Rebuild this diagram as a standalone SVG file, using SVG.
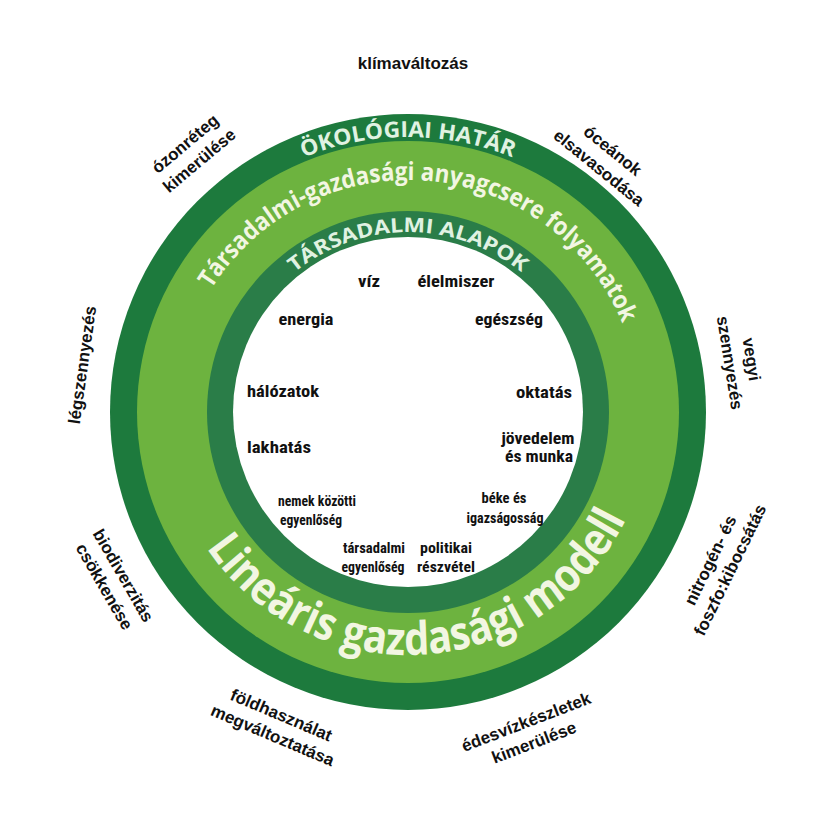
<svg xmlns="http://www.w3.org/2000/svg" width="820" height="820" viewBox="0 0 820 820">
  <style>
    .outer { font-family: "Liberation Sans", Arial, sans-serif; font-weight: 700; font-size: 17px; fill: #111; text-anchor: middle; }
    .in { font-family: "Liberation Sans Narrow", "Roboto Condensed", Roboto, "Liberation Sans", sans-serif; font-weight: 700; fill: #111; text-anchor: middle; }
    .in17 { font-size: 17px; }
    .in15 { font-size: 15px; }
    .ring { font-family: "Open Sans", "Liberation Sans", sans-serif; font-weight: 700; }
    .onDark { fill: #e0f2e2; }
    .onLight { fill: #f2f6e2; }
  </style>
  <defs>
    <path id="arcEco" d="M 149.6 317.9 A 275 275 0 0 1 666.4 317.9"/>
    <path id="arcMeta" d="M 211.3 289.1 A 232 232 0 0 1 623.1 325.1"/>
    <path id="arcSoc" d="M 238.9 350.4 A 180 180 0 0 1 577.1 350.4"/>
    <path id="arcLin" d="M 206.5 547.9 A 243 243 0 0 0 626.4 518.5"/>
  </defs>
  <rect width="820" height="820" fill="#ffffff"/>

  <g id="ring-ecological-ceiling">
    <circle cx="408" cy="412" r="298" fill="#1d7a3d"/>
  </g>
  <g id="ring-metabolism">
    <circle cx="408" cy="412" r="271" fill="#6db33f"/>
  </g>
  <g id="ring-social-foundation">
    <circle cx="408" cy="412" r="201" fill="#2a7d48"/>
  </g>
  <g id="core">
    <circle cx="408" cy="412" r="175" fill="#ffffff"/>
  </g>

  <g id="ring-labels">
    <text class="ring onDark" font-size="22"><textPath href="#arcEco" startOffset="50%" text-anchor="middle" textLength="214" lengthAdjust="spacingAndGlyphs">ÖKOLÓGIAI HATÁR</textPath></text>
    <text class="ring onLight" font-size="25"><textPath href="#arcMeta" textLength="508" lengthAdjust="spacingAndGlyphs">Társadalmi-gazdasági anyagcsere folyamatok</textPath></text>
    <text class="ring onDark" font-size="20"><textPath href="#arcSoc" startOffset="50%" text-anchor="middle" textLength="246" lengthAdjust="spacingAndGlyphs">TÁRSADALMI ALAPOK</textPath></text>
    <text class="ring onLight" font-size="46"><textPath href="#arcLin" textLength="508" lengthAdjust="spacingAndGlyphs">Lineáris gazdasági modell</textPath></text>
  </g>

  <g id="foundation-labels">
    <g id="n-viz"><text class="in in17" x="369" y="287" textLength="22" lengthAdjust="spacingAndGlyphs">víz</text></g>
    <g id="n-elelmiszer"><text class="in in17" x="456" y="287" textLength="77" lengthAdjust="spacingAndGlyphs">élelmiszer</text></g>
    <g id="n-energia"><text class="in in17" x="306" y="325" textLength="55" lengthAdjust="spacingAndGlyphs">energia</text></g>
    <g id="n-egeszseg"><text class="in in17" x="509" y="325" textLength="68" lengthAdjust="spacingAndGlyphs">egészség</text></g>
    <g id="n-halozatok"><text class="in in17" x="283" y="397" textLength="72" lengthAdjust="spacingAndGlyphs">hálózatok</text></g>
    <g id="n-oktatas"><text class="in in17" x="544" y="398" textLength="56" lengthAdjust="spacingAndGlyphs">oktatás</text></g>
    <g id="n-lakhatas"><text class="in in17" x="279" y="453" textLength="64" lengthAdjust="spacingAndGlyphs">lakhatás</text></g>
    <g id="n-jovedelem">
      <text class="in in17" x="538" y="444" textLength="73" lengthAdjust="spacingAndGlyphs">jövedelem</text>
      <text class="in in17" x="539" y="462" textLength="68" lengthAdjust="spacingAndGlyphs">és munka</text>
    </g>
    <g id="n-nemek">
      <text class="in in15" x="317" y="506" textLength="78" lengthAdjust="spacingAndGlyphs">nemek közötti</text>
      <text class="in in15" x="311" y="525" textLength="62" lengthAdjust="spacingAndGlyphs">egyenlőség</text>
    </g>
    <g id="n-beke">
      <text class="in in15" x="504" y="503" textLength="45" lengthAdjust="spacingAndGlyphs">béke és</text>
      <text class="in in15" x="505" y="523" textLength="77" lengthAdjust="spacingAndGlyphs">igazságosság</text>
    </g>
    <g id="n-tarsadalmi">
      <text class="in in15" x="374" y="553" textLength="62" lengthAdjust="spacingAndGlyphs">társadalmi</text>
      <text class="in in15" x="373" y="572" textLength="63" lengthAdjust="spacingAndGlyphs">egyenlőség</text>
    </g>
    <g id="n-politikai">
      <text class="in in15" x="446" y="553" textLength="52" lengthAdjust="spacingAndGlyphs">politikai</text>
      <text class="in in15" x="446" y="572" textLength="58" lengthAdjust="spacingAndGlyphs">részvétel</text>
    </g>
  </g>

  <g id="boundary-labels">
    <g id="b-klima"><text class="outer" x="413" y="69">klímaváltozás</text></g>
    <g id="b-ozon" transform="translate(192,152) rotate(-40)">
      <text class="outer" y="-5">ózonréteg</text>
      <text class="outer" y="17">kimerülése</text>
    </g>
    <g id="b-ocean" transform="translate(606,159) rotate(39)">
      <text class="outer" y="-5">óceánok</text>
      <text class="outer" y="17">elsavasodása</text>
    </g>
    <g id="b-leg" transform="translate(82,365) rotate(-82)">
      <text class="outer" y="6">légszennyezés</text>
    </g>
    <g id="b-vegyi" transform="translate(741,361) rotate(81)">
      <text class="outer" y="-5">vegyi</text>
      <text class="outer" y="17">szennyezés</text>
    </g>
    <g id="b-nitro" transform="translate(720,565) rotate(-64)">
      <text class="outer" y="-5">nitrogén- és</text>
      <text class="outer" y="17">foszfo:kibocsátás</text>
    </g>
    <g id="b-edes" transform="translate(530,732) rotate(-21)">
      <text class="outer" y="-5">édesvízkészletek</text>
      <text class="outer" y="17">kimerülése</text>
    </g>
    <g id="b-fold" transform="translate(277,725) rotate(23)">
      <text class="outer" y="-5">földhasználat</text>
      <text class="outer" y="17">megváltoztatása</text>
    </g>
    <g id="b-bio" transform="translate(114,581) rotate(60)">
      <text class="outer" y="-5">biodiverzitás</text>
      <text class="outer" y="17">csökkenése</text>
    </g>
  </g>
</svg>
